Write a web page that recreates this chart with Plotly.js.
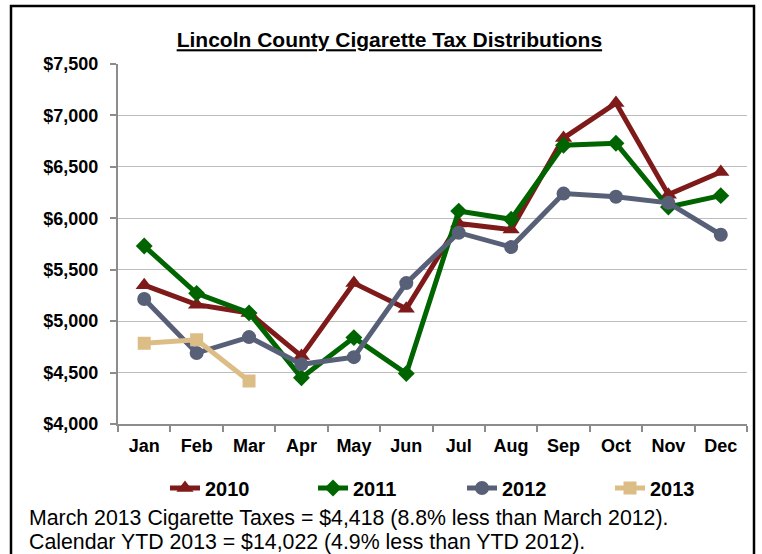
<!DOCTYPE html>
<html>
<head>
<meta charset="utf-8">
<script src="https://cdn.plot.ly/plotly-3.0.1.min.js"></script>
<style>
html,body{margin:0;padding:0;background:#fff;}
#chart{width:762px;height:554px;}
</style>
</head>
<body>
<div id="chart"></div>
<script>
const months = ["Jan","Feb","Mar","Apr","May","Jun","Jul","Aug","Sep","Oct","Nov","Dec"];
const y2010 = [5350,5160,5080,4660,5370,5120,5950,5890,6780,7120,6230,6450];
const y2011 = [5730,5270,5080,4450,4840,4490,6070,5990,6710,6730,6110,6220];
const y2012 = [5215,4690,4845,4580,4650,5370,5860,5720,6240,6210,6150,5840];
const y2013 = [4785,4819,4418];
const yTicks = [4000,4500,5000,5500,6000,6500,7000,7500];
const yTickText = ["$4,000","$4,500","$5,000","$5,500","$6,000","$6,500","$7,000","$7,500"];

const FONT = "Liberation Sans, Arial, sans-serif";

function series(name, ys, color, symbol, size, legendId){
  return {
    type:"scatter", mode:"lines+markers", name:name,
    x: months.slice(0, ys.length), y: ys,
    line:{color:color, width:5},
    marker:{color:color, symbol:symbol, size:size},
    legend:legendId,
    hoverinfo:"skip"
  };
}

const data = [
  series("2010", y2010, "#7f1a1a", "triangle-up", 15, "legend"),
  series("2011", y2011, "#006400", "diamond", 13, "legend2"),
  series("2012", y2012, "#586078", "circle", 14, "legend3"),
  series("2013", y2013, "#dcbd86", "square", 13, "legend4")
];

function legendAt(px){
  return {
    orientation:"h",
    xref:"paper", x:(px-118)/629, xanchor:"left",
    yref:"paper", y:(424-488)/360, yanchor:"middle",
    font:{family:FONT, size:20, color:"#000", weight:"bold"},
    itemwidth:30,
    bgcolor:"rgba(0,0,0,0)", borderwidth:0
  };
}

const layout = {
  width:762, height:554,
  margin:{l:118, r:15, t:64, b:130},
  paper_bgcolor:"#fff", plot_bgcolor:"#fff",
  font:{family:FONT, color:"#000"},
  showlegend:true,
  title:{
    text:"<u>Lincoln County Cigarette Tax Distributions</u>",
    font:{family:FONT, size:21, color:"#000", weight:"bold"},
    xref:"container", x:0.511, xanchor:"center",
    yref:"container", y:0.928, yanchor:"middle"
  },
  xaxis:{
    type:"category", categoryorder:"array", categoryarray:months,
    range:[-0.5,11.5], fixedrange:true,
    showline:true, linecolor:"#8c8c8c", linewidth:2,
    ticks:"outside", tickson:"boundaries", ticklen:6, tickcolor:"#8c8c8c", tickwidth:2,
    showgrid:false, zeroline:false,
    tickfont:{family:FONT, size:18, color:"#000", weight:"bold"},
    ticklabelstandoff:4
  },
  yaxis:{
    range:[4000,7500], fixedrange:true,
    tickmode:"array", tickvals:yTicks, ticktext:yTickText,
    showline:true, linecolor:"#8c8c8c", linewidth:2,
    ticks:"outside", ticklen:6, tickcolor:"#8c8c8c", tickwidth:2,
    showgrid:true, gridcolor:"#bdbdbd", gridwidth:1,
    zeroline:false,
    tickfont:{family:FONT, size:18, color:"#000", weight:"bold"},
    ticklabelstandoff:8
  },
  legend:legendAt(165),
  legend2:legendAt(313),
  legend3:legendAt(462),
  legend4:legendAt(610),
  annotations:[
    {xref:"paper", yref:"paper", x:(27-118)/629, y:(424-518)/360, xanchor:"left", yanchor:"middle",
     text:"March 2013 Cigarette Taxes = $4,418 (8.8% less than March 2012).", showarrow:false,
     font:{family:FONT, size:21.3, color:"#000"}},
    {xref:"paper", yref:"paper", x:(27-118)/629, y:(424-542)/360, xanchor:"left", yanchor:"middle",
     text:"Calendar YTD 2013 = $14,022 (4.9% less than YTD 2012).", showarrow:false,
     font:{family:FONT, size:21.3, color:"#000"}}
  ],
  shapes:[
    {type:"rect", xref:"paper", yref:"paper", layer:"above",
     x0:(11-118)/629, x1:(754-118)/629, y0:(424-600)/360, y1:(424-6)/360,
     line:{color:"#000", width:2.5}, fillcolor:"rgba(0,0,0,0)"}
  ]
};

Plotly.newPlot("chart", data, layout, {staticPlot:true, displayModeBar:false});
</script>
</body>
</html>
